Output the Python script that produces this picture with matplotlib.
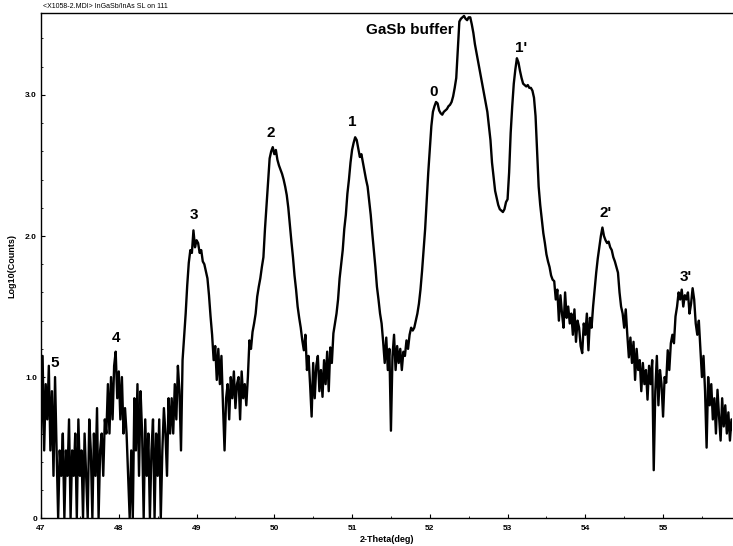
import numpy as np
import matplotlib.pyplot as plt
from matplotlib.ticker import MultipleLocator

plt.rcParams['font.family'] = ['Liberation Sans', 'DejaVu Sans']

# scan grid: 2-theta from 47.00 deg in 0.02 deg steps
start_deg = 47.0
step_deg = 0.02

log_counts = [
    # 47.0
    0.60, 1.15, 0.48, 0.95, 0.70, 1.08, 0.48, 0.90, 0.30, 1.00,
    0.48, 0.00, 0.48, 0.30, 0.60, 0.00, 0.48, 0.30, 0.70, 0.00,
    0.48, 0.30, 0.60, 0.00, 0.70, 0.30, 0.48, 0.00, 0.60, 0.30,
    0.00, 0.70, 0.48, 0.00, 0.60, 0.30, 0.78, 0.00, 0.48, 0.60,
    0.30, 0.70, 0.60, 0.95, 0.60, 1.00, 0.70, 1.08, 1.18, 0.85,
    # 48.0
    1.04, 0.70, 1.00, 0.60, 0.78, 0.60, 0.30, 0.00, 0.48, 0.00,
    0.85, 0.48, 0.95, 0.30, 0.90, 0.60, 0.00, 0.70, 0.30, 0.60,
    0.00, 0.48, 0.70, 0.00, 0.60, 0.30, 0.70, 0.00, 0.48, 0.78,
    0.60, 0.30, 0.85, 0.60, 0.85, 0.60, 0.95, 0.70, 1.08, 0.90,
    0.48, 1.12, 1.28, 1.45, 1.65, 1.81, 1.90, 1.88, 2.04, 1.92,
    # 49.0
    1.97, 1.95, 1.88, 1.90, 1.82, 1.80, 1.75, 1.70, 1.58, 1.43,
    1.30, 1.12, 1.22, 0.98, 1.20, 0.95, 1.15, 0.80, 0.48, 0.85,
    0.95, 0.70, 1.00, 0.85, 1.04, 0.78, 0.95, 1.00, 0.70, 1.04,
    0.85, 0.95, 0.80, 1.00, 1.26, 1.20, 1.32, 1.38, 1.45, 1.57,
    1.64, 1.70, 1.78, 1.85, 2.05, 2.22, 2.40, 2.55, 2.60, 2.63,
    # 50.0
    2.58, 2.61, 2.54, 2.50, 2.47, 2.44, 2.40, 2.35, 2.29, 2.20,
    2.08, 1.96, 1.85, 1.72, 1.62, 1.50, 1.42, 1.35, 1.26, 1.19,
    1.30, 1.05, 1.15, 0.95, 0.72, 1.10, 0.85, 1.08, 1.15, 0.90,
    1.05, 0.86, 1.12, 0.95, 1.18, 0.90, 1.21, 1.10, 1.31, 1.38,
    1.45, 1.55, 1.70, 1.80, 1.90, 2.05, 2.15, 2.30, 2.40, 2.52,
    # 51.0
    2.61, 2.66, 2.70, 2.68, 2.62, 2.56, 2.58, 2.52, 2.46, 2.40,
    2.35, 2.25, 2.15, 2.02, 1.90, 1.78, 1.64, 1.55, 1.45, 1.38,
    1.25, 1.10, 1.28, 1.05, 1.20, 0.62, 1.15, 1.30, 1.05, 1.22,
    1.10, 1.20, 1.05, 1.18, 1.15, 1.26, 1.20, 1.30, 1.35, 1.33,
    1.35, 1.40, 1.45, 1.52, 1.62, 1.75, 1.90, 2.05, 2.25, 2.45,
    # 52.0
    2.62, 2.78, 2.88, 2.92, 2.95, 2.94, 2.89, 2.87, 2.86, 2.88,
    2.89, 2.90, 2.92, 2.93, 2.95, 2.99, 3.05, 3.12, 3.32, 3.52,
    3.54, 3.55, 3.56, 3.54, 3.53, 3.55, 3.55, 3.50, 3.44, 3.36,
    3.30, 3.24, 3.18, 3.12, 3.06, 3.00, 2.94, 2.88, 2.78, 2.68,
    2.52, 2.42, 2.32, 2.27, 2.22, 2.19, 2.18, 2.17, 2.19, 2.24,
    # 53.0
    2.26, 2.45, 2.73, 2.92, 3.08, 3.18, 3.26, 3.23, 3.17, 3.12,
    3.08, 3.07, 3.06, 3.07, 3.05, 3.05, 3.03, 2.98, 2.85, 2.60,
    2.35, 2.22, 2.12, 2.02, 1.95, 1.87, 1.82, 1.78, 1.72, 1.69,
    1.68, 1.55, 1.62, 1.40, 1.58, 1.45, 1.35, 1.60, 1.42, 1.50,
    1.38, 1.45, 1.30, 1.48, 1.25, 1.40, 1.35, 1.22, 1.17, 1.38,
    # 54.0
    1.30, 1.45, 1.19, 1.42, 1.35, 1.50, 1.62, 1.74, 1.84, 1.92,
    2.00, 2.06, 2.00, 1.97, 1.95, 1.96, 1.92, 1.90, 1.85, 1.82,
    1.78, 1.74, 1.60, 1.50, 1.45, 1.35, 1.48, 1.30, 1.14, 1.28,
    1.10, 1.25, 0.98, 1.20, 1.05, 1.12, 0.90, 1.10, 0.95, 1.05,
    0.84, 1.08, 0.95, 1.12, 0.34, 0.90, 1.15, 0.80, 1.05, 0.95,
    # 55.0
    0.72, 1.00, 0.96, 1.19, 1.05, 1.24, 1.30, 1.24, 1.43, 1.50,
    1.60, 1.55, 1.62, 1.50, 1.58, 1.55, 1.60, 1.45, 1.52, 1.63,
    1.55, 1.38, 1.30, 1.40, 1.20, 1.00, 1.15, 0.90, 0.50, 1.00,
    0.80, 0.95, 0.70, 0.85, 0.60, 0.91, 0.72, 0.55, 0.85, 0.65,
    0.80, 0.60, 0.75, 0.55, 0.70, 0.62, 0.58, 0.68, 0.60, 0.65,
]
two_theta = start_deg + step_deg * np.arange(len(log_counts))

# peak labels: satellite orders around the GaSb buffer peak
peak_names = ['5', '4', '3', '2', '1', '0', "1'", "2'", "3'"]
peak_x = [47.18, 47.97, 48.96, 49.96, 51.00, 52.05, 53.17, 54.26, 55.29]
peak_y = [1.10, 1.28, 2.15, 2.73, 2.81, 3.02, 3.33, 2.16, 1.71]

fig = plt.figure(figsize=(7.33, 5.46), dpi=100)
ax = fig.add_axes([0.056, 0.051, 0.943, 0.925])

ax.plot(two_theta, log_counts, color='black', lw=1.7)

for name, x, y in zip(peak_names, peak_x, peak_y):
    ax.text(x, y, name, fontsize=11, fontweight='bold', ha='center', va='center')
ax.text(51.74, 3.46, 'GaSb buffer', fontsize=11, fontweight='bold',
        ha='center', va='center')

ax.set_xlim(47, 55.89)
ax.set_ylim(0, 3.58)
ax.set_xticks(range(47, 56))
ax.set_xticklabels([str(v) for v in range(47, 56)], fontsize=6, fontweight='bold')
ax.xaxis.set_minor_locator(MultipleLocator(0.5))
ax.set_yticks([0, 1, 2, 3])
ax.set_yticklabels(['0', '1.0', '2.0', '3.0'], fontsize=6, fontweight='bold')
ax.yaxis.set_minor_locator(MultipleLocator(0.2))
ax.tick_params(direction='in', length=3, width=0.8, pad=3)
ax.tick_params(axis='x', pad=5)
ax.tick_params(which='minor', direction='in', length=1.5, width=0.6)
ax.spines['right'].set_visible(False)
for side in ['left', 'top', 'bottom']:
    ax.spines[side].set_linewidth(1.0)

ax.set_xlabel('2-Theta(deg)', fontsize=6.5, fontweight='bold', labelpad=2)
ax.set_ylabel('Log10(Counts)', fontsize=6.5, fontweight='bold', labelpad=6)

fig.text(0.058, 0.988, '<X1058-2.MDI> InGaSb/InAs SL on 111', fontsize=5,
         ha='left', va='center')

fig.savefig('out.png', dpi=100)
